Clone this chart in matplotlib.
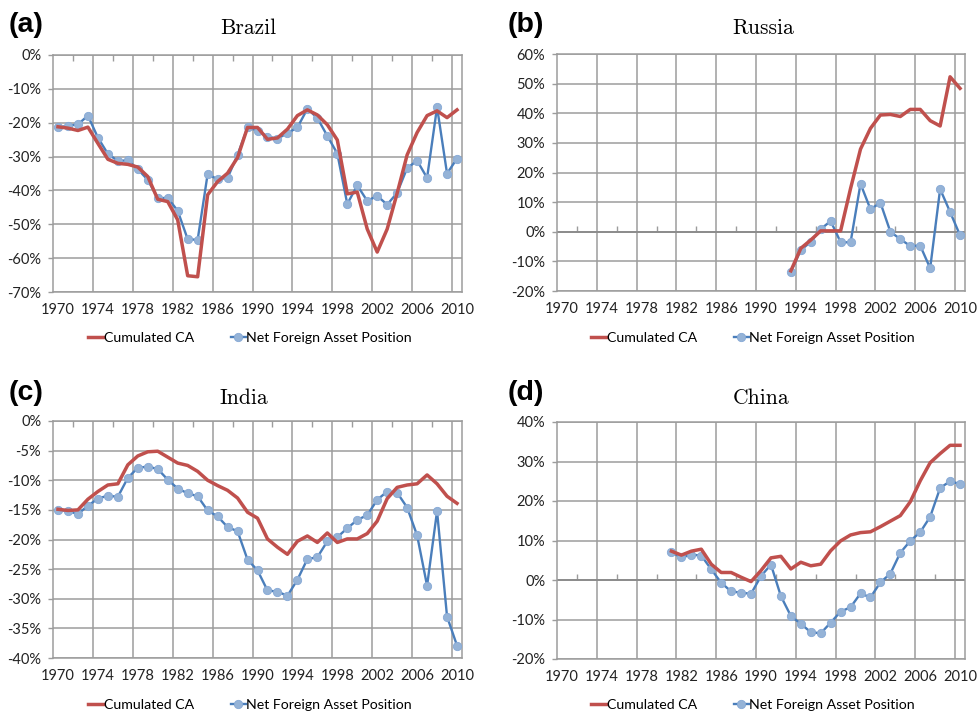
import numpy as np
import matplotlib
matplotlib.use("Agg")
import matplotlib.pyplot as plt
from matplotlib.ticker import FuncFormatter
from matplotlib.lines import Line2D

# ---- data (share of GDP, %) ----
years_all = list(range(1970, 2011))
years_russia = list(range(1993, 2011))
years_china = list(range(1981, 2011))

brazil_ca = [-21.2, -21.6, -22.3, -21.3, -26.1, -30.8, -32.0, -32.3, -33.1, -35.9,
             -42.6, -43.3, -48.7, -65.2, -65.5, -41.3, -37.4, -34.9, -30.3, -21.4,
             -21.4, -24.9, -24.5, -21.9, -17.9, -16.2, -17.7, -20.6, -25.1, -41.0,
             -40.5, -51.4, -58.2, -51.4, -40.8, -29.5, -22.9, -17.9, -16.5, -18.5,
             -16.2]
brazil_nfa = [-21.4, -20.9, -20.5, -17.9, -24.4, -29.2, -31.3, -31.1, -33.7, -36.9,
              -42.3, -42.2, -46.0, -54.4, -54.6, -35.2, -36.7, -36.3, -29.5, -21.4,
              -22.3, -24.1, -24.7, -23.1, -21.4, -15.9, -18.6, -23.9, -29.1, -44.0,
              -38.5, -43.1, -41.6, -44.2, -40.7, -33.4, -31.2, -36.3, -15.4, -35.0,
              -30.6]

russia_ca = [-13.2, -5.6, -2.8, 0.3, 0.3, 0.3, 14.6, 27.9, 34.9, 39.4,
             39.6, 38.9, 41.3, 41.3, 37.5, 35.7, 52.3, 48.4]
russia_nfa = [-13.5, -6.2, -3.4, 0.9, 3.6, -3.5, -3.6, 16.2, 7.6, 9.8,
              0.0, -2.5, -4.8, -4.7, -12.3, 14.4, 6.7, -1.2]

india_ca = [-14.9, -15.1, -15.0, -13.2, -11.9, -10.8, -10.6, -7.4, -5.9, -5.2,
            -5.1, -6.1, -7.1, -7.5, -8.5, -10.0, -10.9, -11.7, -13.0, -15.4,
            -16.4, -19.9, -21.3, -22.5, -20.3, -19.4, -20.5, -18.9, -20.5, -19.9,
            -19.9, -19.0, -16.9, -13.1, -11.2, -10.8, -10.6, -9.1, -10.6, -12.7,
            -13.9]
india_nfa = [-15.0, -15.2, -15.7, -14.3, -13.1, -12.6, -12.8, -9.6, -7.9, -7.7,
             -8.1, -9.9, -11.4, -12.2, -12.7, -15.1, -16.1, -17.9, -18.6, -23.4,
             -25.2, -28.6, -28.8, -29.5, -26.8, -23.3, -23.0, -20.3, -19.6, -18.1,
             -16.7, -15.9, -13.3, -11.9, -12.1, -14.6, -19.3, -27.8, -15.2, -33.0,
             -37.9]

china_ca = [7.3, 6.3, 7.3, 7.8, 4.0, 1.9, 1.9, 0.7, -0.4, 2.4,
            5.6, 6.0, 2.8, 4.5, 3.6, 4.0, 7.4, 9.9, 11.4, 12.0,
            12.2, 13.5, 14.9, 16.3, 19.8, 25.1, 29.7, 32.0, 34.1, 34.1]
china_nfa = [7.0, 5.7, 6.4, 6.2, 2.7, -0.7, -2.9, -3.2, -3.5, 1.0,
             3.9, -4.1, -9.1, -11.1, -13.2, -13.5, -10.8, -8.0, -6.9, -3.4,
             -4.4, -0.6, 1.6, 6.9, 9.9, 12.1, 16.0, 23.3, 25.0, 24.3]

tick_years = list(range(1970, 2011, 4))

RED = "#C0504D"
BLUE = "#4A7EBB"
MFC = "#95B3D7"
GRID = "#9C9C9C"
FONT = "Lato"

panels = [
    # label, title, years, ca, nfa, ylim, ystep, axes rect, label pos, title pos, legend left
    ("(a)", "Brazil", years_all, brazil_ca, brazil_nfa, (-70, 0), 10,
     [53, 55, 462, 292], (9, 25), (248, 28), (88, 338)),
    ("(b)", "Russia", years_russia, russia_ca, russia_nfa, (-20, 60), 10,
     [557, 54, 965, 291], (508, 25), (763, 28), (591, 338)),
    ("(c)", "India", years_all, india_ca, india_nfa, (-40, 0), 5,
     [53, 421, 462, 658], (9, 393), (244, 398), (88, 705)),
    ("(d)", "China", years_china, china_ca, china_nfa, (-20, 40), 10,
     [557, 422, 965, 659], (508, 393), (761, 398), (591, 705)),
]

W, H = 977, 713
fig = plt.figure(figsize=(W / 100, H / 100), dpi=100)

pct = FuncFormatter(lambda v, pos: f"{v:.0f}%")

for lab, title, yrs, ca, nfa, ylim, ystep, rect, lpos, tpos, gpos in panels:
    x0, y0, x1, y1 = rect
    ax = fig.add_axes([x0 / W, 1 - y1 / H, (x1 - x0) / W, (y1 - y0) / H])
    ax.set_xlim(1969.5, 2010.5)
    ax.set_ylim(*ylim)

    # x axis: labels on categories, grid between categories
    ax.set_xticks(tick_years)
    ax.set_xticklabels([str(y) for y in tick_years])
    ax.set_xticks(np.arange(1973.5, 2010, 4), minor=True)
    ax.tick_params(axis="x", which="both", length=0, pad=8,
                   labelsize=10.5, labelcolor="#222222")
    ax.xaxis.grid(True, which="minor", color=GRID, lw=1.1)

    ax.set_yticks(np.arange(ylim[0], ylim[1] + 0.1, ystep))
    ax.yaxis.set_major_formatter(pct)
    ax.tick_params(axis="y", length=3.5, width=1.0, color=GRID, pad=5,
                   labelsize=10.5, labelcolor="#222222")
    ax.yaxis.grid(True, color=GRID, lw=1.1)
    ax.set_axisbelow(True)
    for tl in ax.get_xticklabels() + ax.get_yticklabels():
        tl.set_fontfamily(FONT)
    for s in ax.spines.values():
        s.set_color(GRID)
        s.set_linewidth(1.1)

    # small category ticks on the zero line
    small = np.arange(1971.5, 2010, 4)
    ax.plot(small, np.zeros(len(small)), ls="none",
            marker=3 if ylim[1] == 0 else 2, ms=4, mew=1.0, color=GRID,
            clip_on=False, zorder=1)
    if ylim[1] != 0:
        ax.axhline(0, color="#8C8C8C", lw=1.4, zorder=1)

    ax.plot(yrs, nfa, color=BLUE, lw=1.7, marker="o", ms=6, mfc=MFC,
            mec="#86A9D6", mew=0.6, zorder=3)
    ax.plot(yrs, ca, color=RED, lw=2.5, zorder=4)

    fig.text(lpos[0] / W, 1 - lpos[1] / H, lab, fontsize=20.5, fontweight="bold",
             family="Liberation Sans", ha="left", va="center")
    fig.text(tpos[0] / W, 1 - tpos[1] / H, title, fontsize=15.5, family="cmr10",
             ha="center", va="center")

    handles = [Line2D([], [], color=RED, lw=2.5),
               Line2D([], [], color=BLUE, lw=1.7, marker="o", ms=6, mfc=MFC,
                      mec="#86A9D6", mew=0.6)]
    ax.legend(handles, ["Cumulated CA", "Net Foreign Asset Position"],
              loc="center left", bbox_to_anchor=(gpos[0] / W, 1 - gpos[1] / H),
              bbox_transform=fig.transFigure, ncol=2, frameon=False,
              handlelength=1.05, handletextpad=0.05, columnspacing=2.6,
              borderpad=0, borderaxespad=0, prop={"family": FONT, "size": 10.2})

fig.savefig("out.png", dpi=100)
